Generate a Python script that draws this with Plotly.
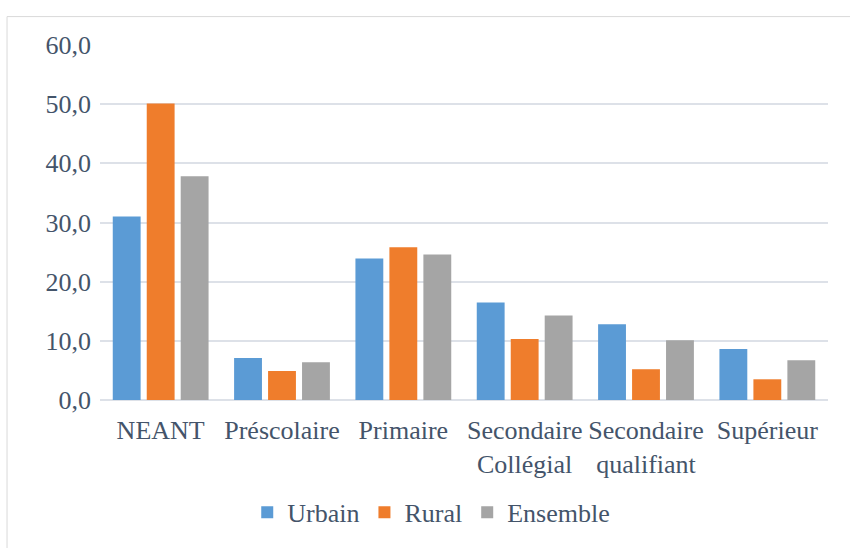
import plotly.graph_objects as go

categories = ["NEANT", "Préscolaire", "Primaire", "Secondaire<br>Collégial", "Secondaire<br>qualifiant", "Supérieur"]
urbain = [31.0, 7.1, 23.9, 16.5, 12.8, 8.6]
rural = [50.1, 4.9, 25.8, 10.3, 5.2, 3.5]
ensemble = [37.8, 6.4, 24.6, 14.3, 10.1, 6.7]
series_names = ["Urbain", "Rural", "Ensemble"]
colors = ["#5b9bd5", "#ef7d2c", "#a5a5a5"]

fig = go.Figure()
for name, vals, col in zip(series_names, [urbain, rural, ensemble], colors):
    fig.add_trace(go.Bar(x=categories, y=vals, name=name, marker=dict(color=col, line=dict(width=0))))

font_col = "#44546a"
serif = "Liberation Serif, Times New Roman, serif"
fig.update_layout(
    width=850, height=548,
    margin=dict(l=100, r=22, t=45, b=141),
    paper_bgcolor="white", plot_bgcolor="white",
    font=dict(family=serif, size=26, color=font_col),
    barmode="group", bargap=0.16, bargroupgap=0.18,
    separators=",.",
    showlegend=True,
    legend=dict(orientation="h", x=0.455, xanchor="center", y=-0.25, yanchor="top",
                font=dict(family=serif, size=26, color=font_col), itemsizing="constant",
                itemwidth=30, tracegroupgap=0),
    xaxis=dict(showgrid=False, showline=False, ticks="", automargin=False, ticklabelstandoff=12,
               tickfont=dict(family=serif, size=26, color=font_col)),
    yaxis=dict(range=[0, 60], dtick=10, tickformat=".1f", showgrid=True, gridcolor="#dde1e8",
               gridwidth=1.5, zeroline=True, zerolinecolor="#dde1e8", zerolinewidth=1.5, automargin=False,
               showline=False, ticks="", ticklabelstandoff=8, tickfont=dict(family=serif, size=26, color=font_col)),
    shapes=[dict(type="rect", xref="paper", yref="paper", x0=-0.1277, x1=1.2, y0=-0.5, y1=1.08,
                 line=dict(color="#d9d9d9", width=1), fillcolor="rgba(0,0,0,0)", layer="below")],
)
fig.write_html("out.html", config={"displayModeBar": False},
               post_script="document.body.style.margin='0';")
